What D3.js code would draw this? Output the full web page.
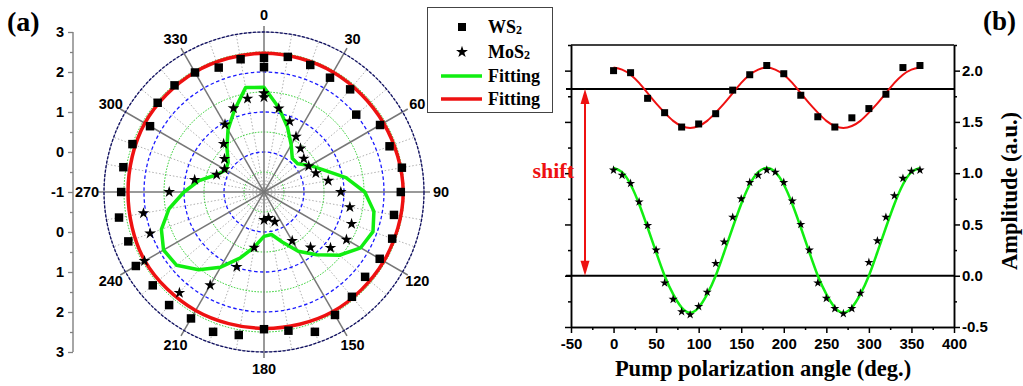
<!DOCTYPE html>
<html>
<head>
<meta charset="utf-8">
<script src="https://cdn.jsdelivr.net/npm/d3@7"></script>
<style>
  body { margin: 0; background: #fff; }
  svg { display: block; }
</style>
</head>
<body>
<div id="chart"></div>
<script>
// ---------- panel (a): polar data (-1 at centre, 3 at rim)
const ws2PolarAngles = [0, 10, 20, 30, 40, 50, 60, 70, 80, 90, 100, 110, 120, 130, 140, 150, 160, 170, 180,
  190, 200, 210, 220, 230, 240, 250, 260, 270, 280, 290, 300, 310, 320, 330, 340, 350, 360]
const ws2PolarValues = [2.12, 2.43, 2.38, 2.30, 2.35, 2.01, 2.35, 2.34, 2.50, 2.42, 2.30, 2.41, 2.34, 2.30, 2.42, 2.55, 2.72, 2.52, 2.43,
  2.63, 2.72, 2.65, 2.69, 2.63, 2.70, 2.61, 2.68, 2.57, 2.57, 2.50, 2.29, 2.47, 2.48, 2.45, 2.31, 2.37, 2.35]

const mos2PolarAngles = [0, 10, 20, 30, 40, 50, 60, 70, 80, 90, 100, 110, 120, 130, 140, 150, 160, 170, 180,
  190, 200, 210, 220, 240, 250, 260, 270, 280, 290, 300, 310, 320, 330, 340, 350, 360]
const mos2PolarValues = [1.37, 1.12, 0.88, 0.60, 0.42, 0.30, 0.29, 0.38, 0.63, 0.92, 1.18, 1.33, 1.38, 1.17, 0.81, 0.41, -0.21, -0.34, -0.30,
  0.41, 0.99, 1.69, 2.29, 2.45, 2.03, 2.06, 1.37, 0.76, 0.26, 0.14, 0.29, 0.57, 0.95, 1.23, 1.37, 1.47]

// fitting curves of panel (a)
const greenFitAngles = [0, 10, 20, 30, 40, 50, 60, 70, 80, 90, 100, 110, 120, 130, 140, 150, 160, 170,
  180, 190, 200, 210, 220, 230, 240, 250, 260, 270, 280, 290, 300, 310, 320, 330, 340, 350]
const greenFitValues = [1.62, 1.14, 0.72, 0.36, 0.10, 0.10, 0.33, 0.60, 1.08, 1.52, 1.79, 1.90, 1.79, 1.46, 1.05, 0.71, 0.33, 0.08,
  0.11, 0.40, 0.76, 1.17, 1.54, 1.85, 1.90, 1.73, 1.41, 1.00, 0.65, 0.26, 0.10, 0.17, 0.44, 0.80, 1.17, 1.65]
const redFitAngles = [0, 30, 60, 90, 120, 150, 180, 210, 240, 270, 300, 330]
const redFitValues = [2.47, 2.46, 2.45, 2.48, 2.46, 2.45, 2.41, 2.42, 2.44, 2.40, 2.44, 2.46]

const polarLabelAngles = [0, 30, 60, 90, 120, 150, 180, 210, 240, 270, 300, 330]
const radialTicks = [-1, 0, 1, 2, 3]

// ---------- panel (b)
const ws2Angles = [0, 20, 40, 60, 80, 100, 120, 140, 160, 180, 200, 220, 240, 260, 280, 300, 320, 340, 360]
const ws2Values = [2.00, 1.98, 1.73, 1.59, 1.45, 1.48, 1.58, 1.81, 1.96, 2.05, 1.97, 1.76, 1.55, 1.45, 1.54, 1.63, 1.77, 2.03, 2.05]

const mos2Angles = [0, 10, 20, 30, 40, 50, 60, 70, 80, 90, 100, 110, 120, 130, 140, 150, 160, 170, 180,
  190, 200, 210, 220, 230, 240, 250, 260, 270, 280, 290, 300, 310, 320, 330, 340, 350, 360]
const mos2Values = [1.03, 0.98, 0.90, 0.72, 0.49, 0.25, -0.07, -0.23, -0.35, -0.38, -0.30, -0.16, 0.12, 0.33, 0.57, 0.75, 0.91, 0.98, 1.03,
  1.01, 0.91, 0.73, 0.50, 0.25, -0.07, -0.22, -0.32, -0.37, -0.32, -0.17, 0.13, 0.34, 0.57, 0.78, 0.95, 1.02, 1.03]

const fitAngles = [0, 10, 20, 30, 40, 50, 60, 70, 80, 90, 100, 110, 120, 130, 140, 150, 160, 170, 180,
  190, 200, 210, 220, 230, 240, 250, 260, 270, 280, 290, 300, 310, 320, 330, 340, 350, 360]
const redFitB = [2.03, 2.01, 1.96, 1.88, 1.78, 1.68, 1.59, 1.51, 1.46, 1.44, 1.46, 1.51, 1.59, 1.68, 1.78, 1.88, 1.96, 2.01, 2.03,
  2.01, 1.96, 1.88, 1.78, 1.68, 1.59, 1.51, 1.46, 1.44, 1.46, 1.51, 1.59, 1.68, 1.78, 1.88, 1.96, 2.01, 2.03]
const greenFitB = [1.05, 1.01, 0.89, 0.70, 0.47, 0.23, 0.00, -0.18, -0.31, -0.36, -0.31, -0.18, 0.00, 0.23, 0.47, 0.70, 0.89, 1.01, 1.05,
  1.01, 0.89, 0.70, 0.47, 0.23, 0.00, -0.18, -0.31, -0.36, -0.31, -0.18, 0.00, 0.23, 0.47, 0.70, 0.89, 1.01, 1.05]
const refLines = [1.82, 0.0]
const xTicks = [-50, 0, 50, 100, 150, 200, 250, 300, 350, 400]
const yTicks = [-0.5, 0.0, 0.5, 1.0, 1.5, 2.0]

const width = 1023
const height = 386
const sans = 'Liberation Sans, Arial, sans-serif'
const serif = 'Liberation Serif, Times New Roman, serif'

const svg = d3.select('#chart')
  .append('svg')
  .attr('width', width)
  .attr('height', height)

// ================= panel (a) =================
const cx = 264
const cy = 192
const R = 160
const rScale = d3.scaleLinear().domain([-1, 3]).range([0, R])
const rad = a => a * Math.PI / 180

const polar = svg.append('g').attr('transform', `translate(${cx},${cy})`)

// dotted spokes every 10 deg
const minorSpokes = d3.range(0, 360, 10).filter(a => a % 30 !== 0)
polar.selectAll('.spoke-minor')
  .data(minorSpokes)
  .join('line')
  .attr('x1', 0).attr('y1', 0)
  .attr('x2', a => R * Math.sin(rad(a)))
  .attr('y2', a => -R * Math.cos(rad(a)))
  .attr('stroke', '#b0b0b0')
  .attr('stroke-width', 1)
  .attr('stroke-dasharray', '1.5,2')

// green dotted rings at half units, blue dashed at whole units
polar.selectAll('.ring-green')
  .data([-0.5, 0.5, 1.5, 2.5])
  .join('circle')
  .attr('r', d => rScale(d))
  .attr('fill', 'none')
  .attr('stroke', '#22cc22')
  .attr('stroke-width', 1)
  .attr('stroke-dasharray', '1.5,1.5')

polar.selectAll('.ring-blue')
  .data([0, 1, 2])
  .join('circle')
  .attr('r', d => rScale(d))
  .attr('fill', 'none')
  .attr('stroke', '#1a1aff')
  .attr('stroke-width', 1.3)
  .attr('stroke-dasharray', '3.5,2.5')

// solid spokes every 30 deg
polar.selectAll('.spoke')
  .data(polarLabelAngles)
  .join('line')
  .attr('x1', 0).attr('y1', 0)
  .attr('x2', a => (R + 6) * Math.sin(rad(a)))
  .attr('y2', a => -(R + 6) * Math.cos(rad(a)))
  .attr('stroke', '#777')
  .attr('stroke-width', 1.5)

// outer rim
polar.append('circle')
  .attr('r', R)
  .attr('fill', 'none')
  .attr('stroke', '#8888aa')
  .attr('stroke-width', 0.8)
polar.append('circle')
  .attr('r', R)
  .attr('fill', 'none')
  .attr('stroke', '#101060')
  .attr('stroke-width', 1.3)
  .attr('stroke-dasharray', '3,1.5')

// angle labels
polar.selectAll('.alabel')
  .data(polarLabelAngles)
  .join('text')
  .attr('x', a => 177 * Math.sin(rad(a)))
  .attr('y', a => -177 * Math.cos(rad(a)))
  .attr('text-anchor', 'middle')
  .attr('dominant-baseline', 'central')
  .attr('font-family', sans)
  .attr('font-weight', 'bold')
  .attr('font-size', '14.5px')
  .text(a => a)

// fitting curves
const radial = d3.lineRadial()
  .angle(d => rad(d[0]))
  .radius(d => rScale(d[1]))

polar.append('path')
  .datum(d3.zip(redFitAngles, redFitValues))
  .attr('d', radial.curve(d3.curveCardinalClosed))
  .attr('fill', 'none')
  .attr('stroke', '#ee1111')
  .attr('stroke-width', 3.5)

polar.append('path')
  .datum(d3.zip(greenFitAngles, greenFitValues))
  .attr('d', radial.curve(d3.curveLinearClosed))
  .attr('fill', 'none')
  .attr('stroke', '#11ee11')
  .attr('stroke-width', 3.5)
  .attr('stroke-linejoin', 'round')

// markers
const polarXY = (a, v) => [rScale(v) * Math.sin(rad(a)), -rScale(v) * Math.cos(rad(a))]

polar.selectAll('.ws2p')
  .data(d3.zip(ws2PolarAngles, ws2PolarValues))
  .join('path')
  .attr('transform', d => `translate(${polarXY(d[0], d[1])})`)
  .attr('d', d3.symbol(d3.symbolSquare, 72))
  .attr('fill', '#000')

polar.selectAll('.mos2p')
  .data(d3.zip(mos2PolarAngles, mos2PolarValues))
  .join('path')
  .attr('transform', d => `translate(${polarXY(d[0], d[1])})`)
  .attr('d', d3.symbol(d3.symbolStar, 42))
  .attr('fill', '#000')

// radial axis on the left
const axX = 73
const rTop = d3.scaleLinear().domain([-1, 3]).range([cy, cy - R])
const rBot = d3.scaleLinear().domain([-1, 3]).range([cy, cy + R])
const halfTicks = [-0.5, 0.5, 1.5, 2.5]

function radialAxis(scale, ticks, labelled, size) {
  const g = svg.append('g')
    .attr('transform', `translate(${axX},0)`)
    .call(d3.axisLeft(scale)
      .tickValues(ticks)
      .tickSize(size)
      .tickSizeOuter(0)
      .tickPadding(4)
      .tickFormat(labelled ? (d => String(d)) : ''))
  g.select('.domain').remove()
  g.selectAll('line').attr('stroke', '#808080').attr('stroke-width', 1.3)
  g.selectAll('text')
    .attr('font-family', sans)
    .attr('font-weight', 'bold')
    .attr('font-size', '14.5px')
    .attr('fill', '#000')
  return g
}
radialAxis(rTop, radialTicks, true, 5)
radialAxis(rBot, radialTicks.filter(d => d !== -1), true, 5)
radialAxis(rTop, halfTicks, false, 3)
radialAxis(rBot, halfTicks, false, 3)
svg.append('line')
  .attr('x1', axX).attr('x2', axX)
  .attr('y1', cy - R).attr('y2', cy + R)
  .attr('stroke', '#808080')
  .attr('stroke-width', 1.4)

// legend
const legend = svg.append('g')
legend.append('rect')
  .attr('x', 427.5).attr('y', 7.5)
  .attr('width', 125).attr('height', 105)
  .attr('fill', '#fff')
  .attr('stroke', '#444')
  .attr('stroke-width', 1)

const legendRows = [
  { y: 27, kind: 'square', main: 'WS', sub: '2' },
  { y: 52, kind: 'star', main: 'MoS', sub: '2' },
  { y: 76, kind: 'green', main: 'Fitting', sub: '' },
  { y: 99, kind: 'red', main: 'Fitting', sub: '' }
]
legendRows.forEach(row => {
  if (row.kind === 'square' || row.kind === 'star') {
    legend.append('path')
      .attr('transform', `translate(462,${row.y})`)
      .attr('d', d3.symbol(row.kind === 'square' ? d3.symbolSquare : d3.symbolStar, row.kind === 'square' ? 64 : 44))
      .attr('fill', '#000')
  } else {
    legend.append('line')
      .attr('x1', 441).attr('x2', 482)
      .attr('y1', row.y).attr('y2', row.y)
      .attr('stroke', row.kind === 'green' ? '#11ee11' : '#ee1111')
      .attr('stroke-width', 3.5)
  }
  const t = legend.append('text')
    .attr('x', 488)
    .attr('y', row.y + 6)
    .attr('font-family', serif)
    .attr('font-weight', 'bold')
    .attr('font-size', '18px')
    .text(row.main)
  if (row.sub) {
    t.append('tspan').attr('font-size', '12px').attr('dy', 1).text(row.sub)
  }
})

svg.append('text')
  .attr('x', 7).attr('y', 31)
  .attr('font-family', serif)
  .attr('font-weight', 'bold')
  .attr('font-size', '28px')
  .text('(a)')

// ================= panel (b) =================
const x = d3.scaleLinear().domain([-50, 400]).range([571, 954])
const y = d3.scaleLinear().domain([-0.5, 2.25]).range([327, 45])
const xMinor = xTicks.slice(0, -1).map(d => d + 25)
const yMinor = [-0.25, 0.25, 0.75, 1.25, 1.75, 2.25]

function styleAxis(g) {
  g.select('.domain').attr('stroke', '#000').attr('stroke-width', 1.5)
  g.selectAll('line').attr('stroke', '#000').attr('stroke-width', 1.5)
  g.selectAll('text')
    .attr('font-family', sans)
    .attr('font-weight', 'bold')
    .attr('font-size', '15px')
    .attr('fill', '#000')
}

// bottom
svg.append('g')
  .attr('transform', `translate(0,${y.range()[0]})`)
  .call(d3.axisBottom(x).tickValues(xTicks).tickSize(6).tickSizeOuter(0).tickPadding(5).tickFormat(d => String(d)))
  .call(styleAxis)
svg.append('g')
  .attr('transform', `translate(0,${y.range()[0]})`)
  .call(d3.axisBottom(x).tickValues(xMinor).tickSize(3).tickSizeOuter(0).tickFormat(''))
  .call(styleAxis)

// right
svg.append('g')
  .attr('transform', `translate(${x.range()[1]},0)`)
  .call(d3.axisRight(y).tickValues(yTicks).tickSize(6).tickSizeOuter(0).tickPadding(2).tickFormat(d => d.toFixed(1)))
  .call(styleAxis)
svg.append('g')
  .attr('transform', `translate(${x.range()[1]},0)`)
  .call(d3.axisRight(y).tickValues(yMinor).tickSize(3).tickSizeOuter(0).tickFormat(''))
  .call(styleAxis)

// left (mirror ticks, no labels)
svg.append('g')
  .attr('transform', `translate(${x.range()[0]},0)`)
  .call(d3.axisLeft(y).tickValues(yTicks).tickSize(6).tickSizeOuter(0).tickFormat(''))
  .call(styleAxis)
svg.append('g')
  .attr('transform', `translate(${x.range()[0]},0)`)
  .call(d3.axisLeft(y).tickValues(yMinor).tickSize(3).tickSizeOuter(0).tickFormat(''))
  .call(styleAxis)

// top border
svg.append('line')
  .attr('x1', x.range()[0]).attr('x2', x.range()[1])
  .attr('y1', y.range()[1]).attr('y2', y.range()[1])
  .attr('stroke', '#000')
  .attr('stroke-width', 1.5)

// reference lines
svg.selectAll('.ref')
  .data(refLines)
  .join('line')
  .attr('x1', 566).attr('x2', x.range()[1])
  .attr('y1', d => y(d)).attr('y2', d => y(d))
  .attr('stroke', '#000')
  .attr('stroke-width', 2)

// fit curves
const fitLine = d3.line()
  .x(d => x(d[0]))
  .y(d => y(d[1]))
  .curve(d3.curveNatural)

svg.append('path')
  .datum(d3.zip(fitAngles, redFitB))
  .attr('d', fitLine)
  .attr('fill', 'none')
  .attr('stroke', '#ee1111')
  .attr('stroke-width', 2)

svg.append('path')
  .datum(d3.zip(fitAngles, greenFitB))
  .attr('d', fitLine)
  .attr('fill', 'none')
  .attr('stroke', '#11ee11')
  .attr('stroke-width', 2.5)

svg.selectAll('.ws2b')
  .data(d3.zip(ws2Angles, ws2Values))
  .join('path')
  .attr('transform', d => `translate(${x(d[0])},${y(d[1])})`)
  .attr('d', d3.symbol(d3.symbolSquare, 49))
  .attr('fill', '#000')

svg.selectAll('.mos2b')
  .data(d3.zip(mos2Angles, mos2Values))
  .join('path')
  .attr('transform', d => `translate(${x(d[0])},${y(d[1])})`)
  .attr('d', d3.symbol(d3.symbolStar, 26))
  .attr('fill', '#000')

// shift arrow
const arrowX = 585
svg.append('line')
  .attr('x1', arrowX).attr('x2', arrowX)
  .attr('y1', y(refLines[0]) + 12).attr('y2', y(refLines[1]) - 12)
  .attr('stroke', '#ee1111')
  .attr('stroke-width', 2)
svg.append('path')
  .attr('d', `M${arrowX},${y(refLines[0])} l-4.5,15 h9 Z`)
  .attr('fill', '#ee1111')
svg.append('path')
  .attr('d', `M${arrowX},${y(refLines[1])} l-4.5,-15 h9 Z`)
  .attr('fill', '#ee1111')
svg.append('text')
  .attr('x', 574).attr('y', 178)
  .attr('text-anchor', 'end')
  .attr('font-family', serif)
  .attr('font-weight', 'bold')
  .attr('font-size', '22px')
  .attr('fill', '#ee1111')
  .text('shift')

// axis titles
svg.append('text')
  .attr('x', 763).attr('y', 376)
  .attr('text-anchor', 'middle')
  .attr('font-family', serif)
  .attr('font-weight', 'bold')
  .attr('font-size', '22.5px')
  .text('Pump polarization angle (deg.)')

svg.append('text')
  .attr('transform', 'translate(1017,191) rotate(-90)')
  .attr('text-anchor', 'middle')
  .attr('font-family', serif)
  .attr('font-weight', 'bold')
  .attr('font-size', '22.5px')
  .text('Amplitude (a.u.)')

svg.append('text')
  .attr('x', 983).attr('y', 30)
  .attr('font-family', serif)
  .attr('font-weight', 'bold')
  .attr('font-size', '27px')
  .text('(b)')
</script>
</body>
</html>
